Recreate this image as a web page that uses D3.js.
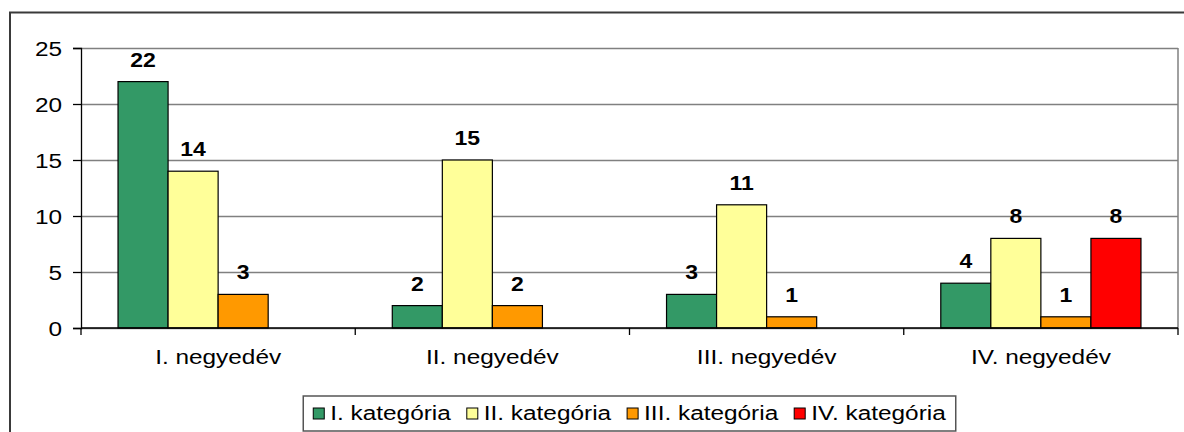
<!DOCTYPE html>
<html>
<head>
<meta charset="utf-8">
<script src="https://cdn.jsdelivr.net/npm/d3@7"></script>
<style>
  body { margin: 0; background: #fff; }
  svg { display: block; font-family: "Liberation Sans", Arial, sans-serif; }
</style>
</head>
<body>
<div id="chart"></div>
<script>
// quarters on the x axis, one group each
const categories = ["I. negyedév", "II. negyedév", "III. negyedév", "IV. negyedév"];
const seriesNames = ["I. kategória", "II. kategória", "III. kategória", "IV. kategória"];
const seriesColors = ["#339966", "#FFFF99", "#FF9900", "#FF0000"];

// values per series, by quarter (null = no bar)
const kat1 = [22, 2, 3, 4];
const kat2 = [14, 15, 11, 8];
const kat3 = [3, 2, 1, 1];
const kat4 = [null, null, null, 8];

const yTicks = [0, 5, 10, 15, 20, 25];

const series = [kat1, kat2, kat3, kat4];
const rows = [];
categories.forEach((c, i) => {
  series.forEach((s, j) => {
    if (s[i] != null) rows.push({ cat: c, name: seriesNames[j], value: s[i], color: seriesColors[j] });
  });
});

const width = 1184, height = 432;
const plot = { left: 81, right: 1178, top: 48, bottom: 328 };
const stretch = 1.25; // text in the original is drawn wide

const svg = d3.select("#chart").append("svg")
  .attr("width", width)
  .attr("height", height);

svg.append("rect").attr("width", width).attr("height", height).attr("fill", "#fff");

// outer chart frame (runs off right and bottom edge)
svg.append("rect")
  .attr("x", 10).attr("y", 12.5)
  .attr("width", 1200).attr("height", 500)
  .attr("fill", "none")
  .attr("stroke", "#3a3a3a")
  .attr("stroke-width", 2);

const x0 = d3.scaleBand().domain(categories).range([plot.left, plot.right]);
const x1 = d3.scaleBand().domain(seriesNames).range([0, x0.bandwidth()]).paddingOuter(0.74);
const y = d3.scaleLinear().domain([0, 25]).range([plot.bottom, plot.top]);

// grid lines
svg.append("g")
  .attr("transform", `translate(${plot.left},0)`)
  .call(d3.axisLeft(y).tickValues(yTicks).tickSize(-(plot.right - plot.left)).tickFormat(""))
  .call(g => g.select(".domain").remove())
  .call(g => g.selectAll("line").attr("stroke", "#808080").attr("stroke-width", 1.3));

// right border of plot area
svg.append("line")
  .attr("x1", plot.right).attr("x2", plot.right)
  .attr("y1", plot.top).attr("y2", plot.bottom)
  .attr("stroke", "#808080").attr("stroke-width", 1.5);

// bars
svg.append("g").selectAll("rect")
  .data(rows)
  .join("rect")
  .attr("x", d => x0(d.cat) + x1(d.name))
  .attr("y", d => y(d.value))
  .attr("width", x1.bandwidth())
  .attr("height", d => y(0) - y(d.value))
  .attr("fill", d => d.color)
  .attr("stroke", "#000")
  .attr("stroke-width", 1.2);

// value labels
svg.append("g").selectAll("text")
  .data(rows)
  .join("text")
  .attr("transform", d => `translate(${x0(d.cat) + x1(d.name) + x1.bandwidth() / 2},${y(d.value) - 15}) scale(1.15,1)`)
  .attr("text-anchor", "middle")
  .attr("font-size", 20)
  .attr("font-weight", "bold")
  .attr("fill", "#000")
  .text(d => d.value);

// y axis
svg.append("g")
  .attr("transform", `translate(${plot.left},0)`)
  .call(d3.axisLeft(y).tickValues(yTicks).tickSize(8).tickPadding(0))
  .call(g => g.select(".domain").attr("stroke", "#000").attr("stroke-width", 1.3))
  .call(g => g.selectAll(".tick line").attr("stroke", "#000").attr("stroke-width", 1.3))
  .call(g => g.selectAll(".tick text")
    .attr("x", null).attr("dy", null)
    .attr("transform", "translate(-19,7) scale(1.25,1)")
    .attr("font-size", 19.5)
    .attr("font-family", "Liberation Sans, Arial, sans-serif")
    .attr("fill", "#000"));

// x axis
const xAxis = svg.append("g").attr("transform", `translate(0,${plot.bottom})`);
xAxis.append("line")
  .attr("x1", plot.left).attr("x2", plot.right)
  .attr("stroke", "#000").attr("stroke-width", 1.3);
xAxis.selectAll(".sep")
  .data(categories.concat(["end"]))
  .join("line")
  .attr("class", "sep")
  .attr("x1", (d, i) => i < categories.length ? x0(d) : plot.right)
  .attr("x2", (d, i) => i < categories.length ? x0(d) : plot.right)
  .attr("y1", 0).attr("y2", 7)
  .attr("stroke", "#000").attr("stroke-width", 1.3);
xAxis.selectAll(".cat")
  .data(categories)
  .join("text")
  .attr("class", "cat")
  .attr("transform", d => `translate(${x0(d) + x0.bandwidth() / 2},36) scale(${stretch},1)`)
  .attr("text-anchor", "middle")
  .attr("font-size", 19.5)
  .attr("fill", "#000")
  .text(d => d);

// legend
const legend = svg.append("g");
const legendBox = legend.append("rect")
  .attr("fill", "#fff")
  .attr("stroke", "#555")
  .attr("stroke-width", 1.5);
const gap = 16;
let lx = 0;
seriesNames.forEach((name, i) => {
  const g = legend.append("g").attr("transform", `translate(${lx},0)`);
  g.append("rect")
    .attr("x", 0).attr("y", -12)
    .attr("width", 11).attr("height", 11)
    .attr("fill", seriesColors[i])
    .attr("stroke", "#000")
    .attr("stroke-width", 1);
  const t = g.append("text")
    .attr("transform", `translate(17,0) scale(${stretch},1)`)
    .attr("font-size", 19.5)
    .attr("fill", "#000")
    .text(name);
  const w = t.node().getComputedTextLength() * stretch;
  lx += 17 + w + gap;
});
const legendW = lx - gap;
const padX = 10;
const cx = (plot.left + plot.right) / 2;
const legendX = cx - legendW / 2;
legend.attr("transform", `translate(${legendX},420)`);
legendBox
  .attr("x", -padX).attr("y", -24)
  .attr("width", legendW + 2 * padX)
  .attr("height", 35);
</script>
</body>
</html>
